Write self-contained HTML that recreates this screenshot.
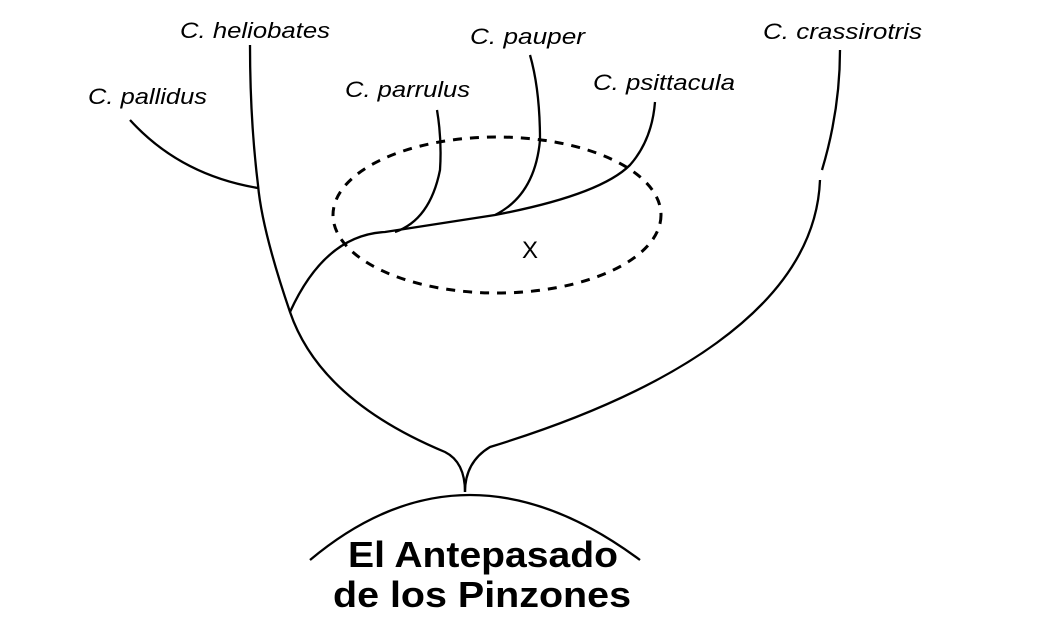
<!DOCTYPE html>
<html><head><style>
html,body{margin:0;padding:0;background:#fff;}
.l{font-family:"Liberation Sans",sans-serif;font-style:italic;font-size:22px;fill:#000;}
.t{font-family:"Liberation Sans",sans-serif;font-weight:bold;font-size:36px;fill:#000;}
</style></head><body>
<svg width="1050" height="635" viewBox="0 0 1050 635" xmlns="http://www.w3.org/2000/svg">
<g fill="none" stroke="#000" stroke-width="2.3">
<path d="M310,560 Q465,430 640,560"/>
<path d="M465,492 Q465,462 445,452 Q320,400 290,312 Q262,230 258,185 Q250,120 250,45"/>
<path d="M465,492 Q465,462 490,447 C660,395 815,310 820,180"/>
<path d="M822,170 Q840,110 840,50"/>
<path d="M130,120 Q180,175 258,188"/>
<path d="M290,312 Q325,235 385,232 L495,215 Q600,195 630,165 Q652,140 655,102"/>
<path d="M437,110 Q442,140 440,170 Q430,220 395,232"/>
<path d="M530,55 Q540,90 540,140 Q535,195 495,215"/>
<ellipse cx="497" cy="215" rx="164" ry="78" stroke-dasharray="9,8" stroke-width="3"/>
</g>
<text x="522" y="258" font-family="Liberation Sans,sans-serif" font-size="24" fill="#000">X</text>
<text class="l" x="180" y="38" textLength="150" lengthAdjust="spacingAndGlyphs">C. heliobates</text>
<text class="l" x="88" y="104" textLength="119" lengthAdjust="spacingAndGlyphs">C. pallidus</text>
<text class="l" x="345" y="97" textLength="125" lengthAdjust="spacingAndGlyphs">C. parrulus</text>
<text class="l" x="470" y="44" textLength="115" lengthAdjust="spacingAndGlyphs">C. pauper</text>
<text class="l" x="593" y="90" textLength="142" lengthAdjust="spacingAndGlyphs">C. psittacula</text>
<text class="l" x="763" y="39" textLength="159" lengthAdjust="spacingAndGlyphs">C. crassirotris</text>
<text class="t" x="348" y="567" textLength="270" lengthAdjust="spacingAndGlyphs">El Antepasado</text>
<text class="t" x="333" y="607" textLength="298" lengthAdjust="spacingAndGlyphs">de los Pinzones</text>
</svg>
</body></html>
